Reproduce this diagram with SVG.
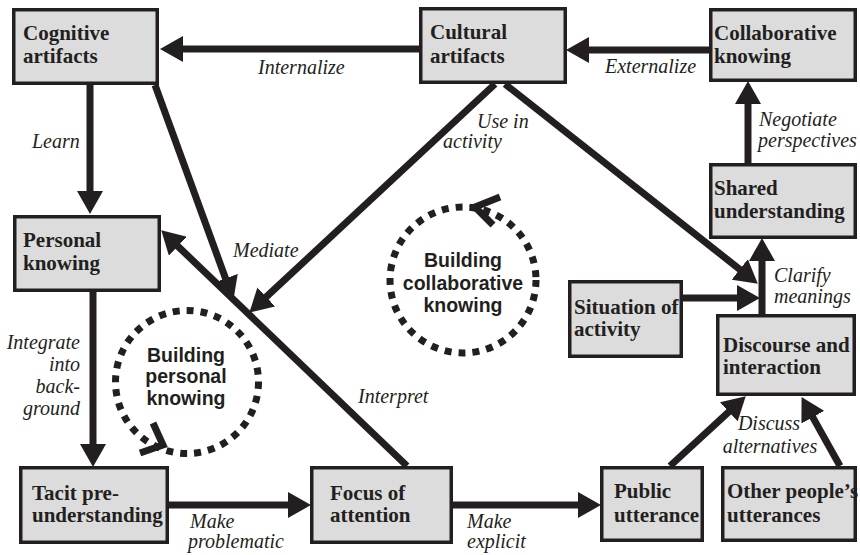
<svg xmlns="http://www.w3.org/2000/svg" width="860" height="555" viewBox="0 0 860 555">
<defs>
<marker id="ah" markerUnits="userSpaceOnUse" viewBox="0 0 23 26" refX="11" refY="13" markerWidth="23" markerHeight="26" orient="auto">
<path d="M0,0 L23,13 L0,26 z" fill="#231f20"/>
</marker>
<style>
.box rect{fill:#dcdcdd;stroke:#231f20;stroke-width:3.5}
.box text{font-family:'Liberation Serif',serif;font-weight:bold;font-size:21px;fill:#231f20}
.lbl{font-family:'Liberation Serif',serif;font-style:italic;font-size:20px;fill:#231f20}
.conn line{stroke:#231f20;stroke-width:7;fill:none}
.arr{marker-end:url(#ah)}
.loop circle{fill:none;stroke:#231f20;stroke-width:7;stroke-dasharray:7 7}
.loop polyline{fill:none;stroke:#231f20;stroke-width:7}
.loop text{font-family:'Liberation Sans',sans-serif;font-weight:bold;font-size:19.5px;fill:#231f20;text-anchor:middle}
</style>
</defs>
<rect width="860" height="555" fill="#ffffff"/>

<g id="connectors" class="conn">
<line class="arr" x1="419" y1="49" x2="172" y2="49"/>
<line class="arr" x1="709" y1="50" x2="578" y2="50"/>
<line class="arr" x1="90" y1="85" x2="90" y2="202"/>
<line class="arr" x1="748" y1="163" x2="748" y2="93"/>
<line class="arr" x1="93" y1="292" x2="93" y2="455"/>
<line class="arr" x1="169" y1="505" x2="299" y2="505"/>
<line class="arr" x1="453" y1="505" x2="589" y2="505"/>
<line class="arr" x1="670" y1="466" x2="736.9" y2="404.4"/>
<line class="arr" x1="840" y1="466" x2="807.4" y2="407.6"/>
<line class="arr" x1="762" y1="314" x2="762" y2="250"/>
<line class="arr" x1="683" y1="298" x2="748" y2="298"/>
<line class="arr" x1="505" y1="84" x2="748.4" y2="276.2"/>
<line class="arr" x1="495" y1="84" x2="258.2" y2="304.4"/>
<line class="arr" x1="155" y1="85" x2="229.3" y2="288.7"/>
<line class="arr" x1="407" y1="466" x2="169.9" y2="238.6"/>
</g>

<g id="loop-personal" class="loop">
<circle cx="187" cy="382" r="71.5"/>
<polyline points="153,423 163,445 140,453"/>
<text x="186" y="362">Building</text>
<text x="186" y="383">personal</text>
<text x="186" y="405">knowing</text>
</g>
<g id="loop-collaborative" class="loop">
<circle cx="463" cy="280" r="73"/>
<polyline points="500,197 475,207 493,225"/>
<text x="463" y="267">Building</text>
<text x="463" y="290">collaborative</text>
<text x="463" y="312">knowing</text>
</g>

<g id="cognitive-artifacts" class="box">
<rect x="13.75" y="9.75" width="143.5" height="73.5"/>
<text x="23" y="40">Cognitive</text>
<text x="23" y="63">artifacts</text>
</g>
<g id="cultural-artifacts" class="box">
<rect x="420.75" y="8.75" width="144.5" height="73.5"/>
<text x="430" y="39">Cultural</text>
<text x="430" y="63">artifacts</text>
</g>
<g id="collaborative-knowing" class="box">
<rect x="710.75" y="9.75" width="144.5" height="70.5"/>
<text x="714" y="40">Collaborative</text>
<text x="714" y="63">knowing</text>
</g>
<g id="shared-understanding" class="box">
<rect x="710.75" y="164.75" width="144.5" height="72.5"/>
<text x="714" y="195">Shared</text>
<text x="714" y="218">understanding</text>
</g>
<g id="personal-knowing" class="box">
<rect x="14.75" y="216.75" width="144.5" height="73.5"/>
<text x="23" y="247">Personal</text>
<text x="23" y="270">knowing</text>
</g>
<g id="situation-of-activity" class="box">
<rect x="569.75" y="281.75" width="111.5" height="74.5"/>
<text x="574" y="314">Situation of</text>
<text x="574" y="336">activity</text>
</g>
<g id="discourse-and-interaction" class="box">
<rect x="717.75" y="315.75" width="136.5" height="78.5"/>
<text x="723" y="352">Discourse and</text>
<text x="723" y="374">interaction</text>
</g>
<g id="tacit-pre-understanding" class="box">
<rect x="20.75" y="467.75" width="146.5" height="74.5"/>
<text x="32" y="500">Tacit pre-</text>
<text x="32" y="522">understanding</text>
</g>
<g id="focus-of-attention" class="box">
<rect x="311.75" y="467.75" width="139.5" height="74.5"/>
<text x="330" y="500">Focus of</text>
<text x="330" y="522">attention</text>
</g>
<g id="public-utterance" class="box">
<rect x="601.75" y="467.75" width="100.5" height="72.5"/>
<text x="614" y="498">Public</text>
<text x="614" y="522">utterance</text>
</g>
<g id="other-peoples-utterances" class="box">
<rect x="722.75" y="467.75" width="132.5" height="72.5"/>
<text x="727" y="498">Other people’s</text>
<text x="727" y="522">utterances</text>
</g>

<g id="labels">
<text class="lbl" x="258" y="74">Internalize</text>
<text class="lbl" x="605" y="73">Externalize</text>
<text class="lbl" x="32" y="148">Learn</text>
<text class="lbl" x="759" y="126">Negotiate</text>
<text class="lbl" x="758" y="147">perspectives</text>
<text class="lbl" x="477" y="128">Use in</text>
<text class="lbl" x="443" y="148">activity</text>
<text class="lbl" x="233" y="257">Mediate</text>
<text class="lbl" x="774" y="282">Clarify</text>
<text class="lbl" x="774" y="303">meanings</text>
<text class="lbl" x="80" y="349" text-anchor="end">Integrate</text>
<text class="lbl" x="80" y="371" text-anchor="end">into</text>
<text class="lbl" x="80" y="393" text-anchor="end">back-</text>
<text class="lbl" x="80" y="415" text-anchor="end">ground</text>
<text class="lbl" x="358" y="403">Interpret</text>
<text class="lbl" x="190" y="528">Make</text>
<text class="lbl" x="188" y="548">problematic</text>
<text class="lbl" x="467" y="528">Make</text>
<text class="lbl" x="467" y="548">explicit</text>
<text class="lbl" x="769" y="430" text-anchor="middle">Discuss</text>
<text class="lbl" x="770" y="453" text-anchor="middle">alternatives</text>
</g>
</svg>
